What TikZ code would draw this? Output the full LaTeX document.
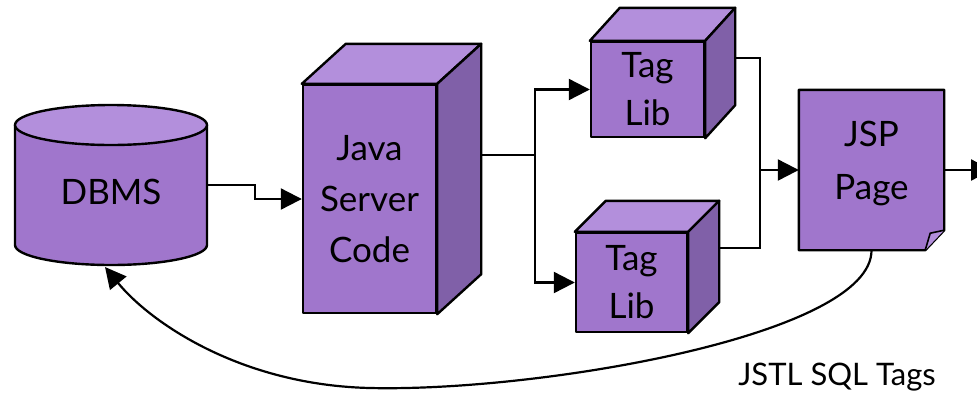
\documentclass[tikz,border=0pt]{standalone}
\usepackage{fontspec}
\setmainfont{Lato}
\usetikzlibrary{arrows.meta,backgrounds}
\definecolor{facefront}{RGB}{160,118,204}
\definecolor{facetop}{RGB}{179,143,220}
\definecolor{faceside}{RGB}{128,96,168}

% a box seen in perspective: front node plus top and side faces
\newcommand{\boxfaces}[3]{%
  \draw[outline, fill=facetop] (#1.north west) -- ++(#2,-#3) -- ([shift={(#2,-#3)}]#1.north east) -- (#1.north east) -- cycle;
  \draw[outline, fill=faceside] (#1.north east) -- ++(#2,-#3) -- ([shift={(#2,-#3)}]#1.south east) -- (#1.south east) -- cycle;
}

\begin{document}
\begin{tikzpicture}[x=1pt,y=-1pt,
  outline/.style={draw=black, line width=2.4pt, line join=round},
  link/.style={line width=2.2pt, -{Triangle[length=21pt,width=21pt]}},
  wire/.style={line width=2.2pt},
  label/.style={font=\fontsize{35}{48}\selectfont, align=center, text=black},
  front/.style={outline, fill=facefront, inner sep=0pt}]

\useasboundingbox (0,0) rectangle (977,392);

% database cylinder
\path[outline, fill=facefront] (15,125) -- (15,245)
  arc[start angle=180, end angle=360, x radius=96pt, y radius=20pt] -- (207,125) -- cycle;
\draw[outline, fill=facetop] (111,125) ellipse[x radius=96pt, y radius=20pt];
\node[label] (dbms) at (111,192) {DBMS};
\coordinate (dbms out) at (207,185);
\coordinate (dbms base) at (105,267);

% server code box
\node[front, label, minimum width=133pt, minimum height=228pt, font=\fontsize{35}{51}\selectfont]
  (java) at (369.5,199) {Java\\Server\\Code};
\boxfaces{java}{44}{40}
\coordinate (java out) at (480,155);
\coordinate (fork) at (535,155);

% tag libraries
\node[front, label, minimum width=113pt, minimum height=95pt] (taga) at (647.5,89.5) {Tag\\Lib};
\boxfaces{taga}{30}{33}
\node[front, label, minimum width=111pt, minimum height=99pt] (tagb) at (631.5,282.5) {Tag\\Lib};
\boxfaces{tagb}{31}{31}
\coordinate (taga out) at (734,58);
\coordinate (tagb out) at (719,248);
\coordinate (merge) at (760,170);

% page with folded corner
\node[minimum width=145pt, minimum height=160pt, inner sep=0pt] (jsp) at (871.5,170) {};
\begin{scope}[on background layer]
  \draw[outline, fill=facefront] (jsp.north west) -- (jsp.north east) -- ([yshift=20pt]jsp.south east)
    -- ([xshift=-19pt]jsp.south east) -- (jsp.south west) -- cycle;
  \draw[outline, line width=1.6pt, fill=facetop] ([xshift=-19pt]jsp.south east) -- ([shift={(-14pt,17pt)}]jsp.south east)
    -- ([yshift=20pt]jsp.south east);
\end{scope}
\node[label, font=\fontsize{35}{53}\selectfont] (jsp text) at ([yshift=6pt]jsp.center) {JSP\\Page};
\coordinate (page out) at (992,170);

% connectors
\draw[link] (dbms out) -- ++(48,0) |- (java.west);
\draw[wire] (java out) -- (fork);
\draw[link] (fork) |- (taga.west);
\draw[link] (fork) |- (tagb.west);
\draw[wire] (taga out) -| (merge) |- (tagb out);
\draw[link] (merge) -- (jsp.west);
\draw[link] (jsp.east) -- (page out);
\draw[link] (jsp.south) .. controls (872,335) and (540,392) .. (370,388)
  .. controls (240,385) and (150,322) .. (dbms base);
\node[label, font=\fontsize{31}{36}\selectfont] (sql) at (837,377) {JSTL SQL Tags};
\end{tikzpicture}
\end{document}
